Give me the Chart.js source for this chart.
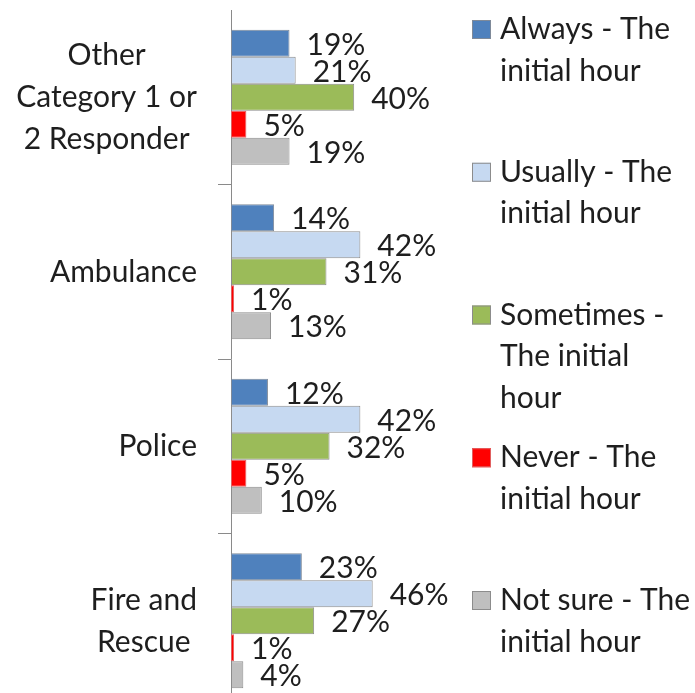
<!DOCTYPE html>
<html>
<head>
<meta charset="utf-8">
<title>The initial hour by responder</title>
<script src="https://cdn.jsdelivr.net/npm/chart.js"></script>
<style>
  html, body { margin: 0; padding: 0; background: #fff; overflow: hidden; }
  canvas { display: block; }
</style>
</head>
<body>
<canvas id="chart" width="695" height="710"></canvas>
<script>
// categories, top to bottom
const categories = ["Other Category 1 or 2 Responder", "Ambulance", "Police", "Fire and Rescue"];
// how the category labels break
const categoryLines = [["Other", "Category 1 or", "2 Responder"], ["Ambulance"], ["Police"], ["Fire and", "Rescue"]];

const seriesNames = [
  "Always - The initial hour",
  "Usually - The initial hour",
  "Sometimes - The initial hour",
  "Never - The initial hour",
  "Not sure - The initial hour",
];
const legendLines = [
  ["Always - The", "initial hour"],
  ["Usually - The", "initial hour"],
  ["Sometimes -", "The initial", "hour"],
  ["Never - The", "initial hour"],
  ["Not sure - The", "initial hour"],
];

// percentages per series, in category order
const always   = [19, 14, 12, 23];
const usually  = [21, 42, 42, 46];
const sometimes = [40, 31, 32, 27];
const never    = [5, 1, 5, 1];
const notSure  = [19, 13, 10, 4];

const colors = ["#4F81BD", "#C6D9F1", "#9BBB59", "#FF0000", "#BFBFBF"];
const borders = ["#7f8a99", "#8c8c8c", "#8c8c8c", "#e06060", "#8c8c8c"];

const FONT = "Lato, 'Open Sans', sans-serif";
const SIZE = 30;
const TEXT = "#1e1e1e";

// value labels at the bar ends
const valueLabels = {
  id: "valueLabels",
  afterDatasetsDraw(chart) {
    const ctx = chart.ctx;
    ctx.save();
    ctx.font = SIZE + "px " + FONT;
    ctx.fillStyle = TEXT;
    ctx.textAlign = "left";
    ctx.textBaseline = "middle";
    chart.data.datasets.forEach((ds, i) => {
      chart.getDatasetMeta(i).data.forEach((bar, j) => {
        ctx.fillText(ds.data[j] + "%", bar.x + 17, bar.y + 2);
      });
    });
    ctx.restore();
  },
};

// category labels: lines centred on each other, block right-aligned
const categoryLabels = {
  id: "categoryLabels",
  afterDraw(chart) {
    const ctx = chart.ctx;
    const y = chart.scales.y;
    ctx.save();
    ctx.font = SIZE + "px " + FONT;
    ctx.fillStyle = TEXT;
    ctx.textAlign = "center";
    ctx.textBaseline = "alphabetic";
    const right = y.right - 34;
    categoryLines.forEach((lines, i) => {
      const cy = y.getPixelForTick(i);
      const w = Math.max(...lines.map((l) => ctx.measureText(l).width));
      const cx = right - w / 2;
      lines.forEach((l, k) => {
        ctx.fillText(l, cx, cy + 10 + (k - (lines.length - 1) / 2) * 42);
      });
    });
    ctx.restore();
  },
};

// legend on the right, wrapped like the original
const sideLegend = {
  id: "sideLegend",
  afterDraw(chart) {
    const ctx = chart.ctx;
    ctx.save();
    ctx.font = SIZE + "px " + FONT;
    ctx.textAlign = "left";
    ctx.textBaseline = "alphabetic";
    legendLines.forEach((lines, i) => {
      const top = 20 + i * 142.75;
      ctx.fillStyle = colors[i];
      ctx.fillRect(472, top, 19, 19);
      ctx.strokeStyle = borders[i];
      ctx.lineWidth = 1;
      ctx.strokeRect(472.5, top + 0.5, 18, 18);
      ctx.fillStyle = TEXT;
      lines.forEach((l, k) => {
        ctx.fillText(l, 500, top + 19 + k * 41.5);
      });
    });
    ctx.restore();
  },
};

const seriesValues = [always, usually, sometimes, never, notSure];

function draw() {
  new Chart(document.getElementById("chart"), {
    type: "bar",
    data: {
      labels: categories,
      datasets: seriesValues.map((vals, i) => ({
        label: seriesNames[i],
        data: vals,
        backgroundColor: colors[i],
        borderColor: borders[i],
        borderWidth: 1,
        borderSkipped: false,
        categoryPercentage: 0.774,
        barPercentage: 1,
      })),
    },
    options: {
      indexAxis: "y",
      responsive: false,
      animation: false,
      devicePixelRatio: 1,
      layout: { padding: { left: 218, right: 310, top: 10, bottom: 2 } },
      plugins: {
        legend: { display: false },
        tooltip: { enabled: false },
      },
      scales: {
        x: {
          display: false,
          min: 0,
          max: 50,
        },
        y: {
          ticks: { display: false },
          border: { display: true, color: "#8a8a8a", width: 1 },
          grid: {
            offset: true,
            drawOnChartArea: false,
            drawTicks: true,
            tickLength: 13,
            tickColor: (c) => (c.index === undefined || c.index === 0 ? "rgba(0,0,0,0)" : "#8a8a8a"),
          },
        },
      },
    },
    plugins: [valueLabels, categoryLabels, sideLegend],
  });
}

if (document.fonts && document.fonts.load) {
  document.fonts.load(SIZE + "px Lato").then(draw, draw);
} else {
  draw();
}
</script>
</body>
</html>
